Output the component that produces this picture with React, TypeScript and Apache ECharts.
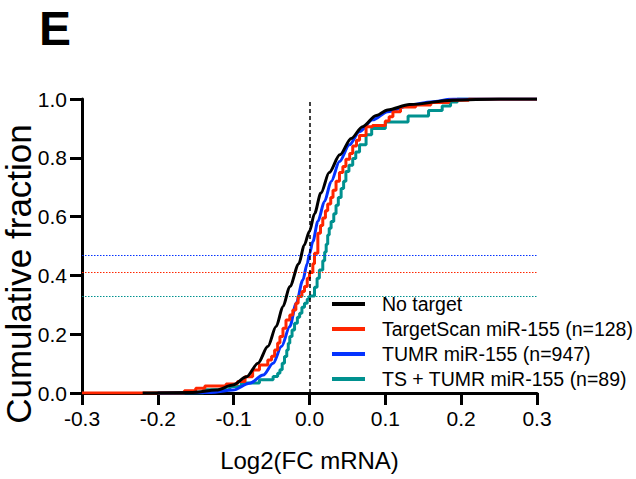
import React, { useEffect, useRef } from "react";
import * as echarts from "echarts";

const seriesNames = [
  "No target",
  "TargetScan miR-155 (n=128)",
  "TUMR miR-155 (n=947)",
  "TS + TUMR miR-155 (n=89)",
];
const seriesColors = ["#000000", "#ff2600", "#0433ff", "#00918f"];

// No target (smooth CDF)
const noTargetX = [-0.22, -0.154, -0.123, -0.101, -0.083, -0.068, -0.055, -0.044, -0.035, -0.026, -0.014, -0.007, 0, 0.0066, 0.015, 0.026, 0.04, 0.055, 0.07, 0.088, 0.103, 0.132, 0.189, 0.25, 0.3];
const noTargetY = [0, 0.002, 0.01, 0.027, 0.055, 0.101, 0.158, 0.226, 0.294, 0.362, 0.44, 0.503, 0.55, 0.61, 0.68, 0.75, 0.81, 0.866, 0.906, 0.944, 0.963, 0.981, 0.996, 1.0, 1.0];

// TargetScan miR-155 (stepped CDF)
const targetScanX = [-0.3, -0.165, -0.15, -0.138, -0.11, -0.095, -0.085, -0.075, -0.066, -0.055, -0.05, -0.046, -0.042, -0.039, -0.035, -0.031, -0.026, -0.022, -0.018, -0.015, -0.01, -0.0066, -0.003, 0, 0.0044, 0.0066, 0.011, 0.0145, 0.0175, 0.021, 0.024, 0.028, 0.031, 0.035, 0.0395, 0.044, 0.048, 0.053, 0.057, 0.062, 0.066, 0.0746, 0.083, 0.1, 0.105, 0.11, 0.12, 0.14, 0.16, 0.184, 0.21, 0.3];
const targetScanY = [0, 0.008, 0.016, 0.024, 0.031, 0.039, 0.055, 0.078, 0.095, 0.112, 0.125, 0.146, 0.17, 0.192, 0.22, 0.248, 0.265, 0.282, 0.305, 0.328, 0.345, 0.362, 0.39, 0.41, 0.44, 0.475, 0.543, 0.57, 0.595, 0.62, 0.643, 0.665, 0.69, 0.72, 0.75, 0.77, 0.795, 0.815, 0.84, 0.86, 0.876, 0.906, 0.91, 0.925, 0.94, 0.957, 0.973, 0.98, 0.988, 0.996, 1.0, 1.0];

// TUMR miR-155 (near-smooth CDF)
const tumrX = [-0.2, -0.13, -0.101, -0.079, -0.061, -0.048, -0.037, -0.026, -0.0175, -0.0088, -0.003, 0, 0.0044, 0.011, 0.0197, 0.0285, 0.0395, 0.0526, 0.0658, 0.0833, 0.103, 0.136, 0.16, 0.19, 0.3];
const tumrY = [0, 0.002, 0.01, 0.033, 0.061, 0.101, 0.158, 0.226, 0.305, 0.384, 0.44, 0.473, 0.515, 0.583, 0.651, 0.719, 0.787, 0.844, 0.889, 0.929, 0.957, 0.981, 0.99, 1.0, 1.0];

// TS + TUMR miR-155 (stepped CDF)
const tsTumrX = [-0.2, -0.14, -0.105, -0.09, -0.066, -0.048, -0.042, -0.039, -0.036, -0.033, -0.03, -0.028, -0.026, -0.023, -0.0197, -0.016, -0.013, -0.01, -0.0066, -0.003, 0, 0.0066, 0.01, 0.013, 0.0175, 0.02, 0.022, 0.024, 0.026, 0.0285, 0.032, 0.035, 0.038, 0.0417, 0.045, 0.048, 0.052, 0.057, 0.061, 0.066, 0.0746, 0.082, 0.1, 0.13, 0.157, 0.175, 0.186, 0.195, 0.3];
const tsTumrY = [0, 0.011, 0.022, 0.034, 0.045, 0.056, 0.067, 0.079, 0.101, 0.124, 0.146, 0.169, 0.192, 0.214, 0.237, 0.258, 0.271, 0.292, 0.305, 0.32, 0.33, 0.36, 0.39, 0.418, 0.45, 0.48, 0.506, 0.537, 0.56, 0.583, 0.61, 0.639, 0.665, 0.696, 0.72, 0.753, 0.775, 0.798, 0.82, 0.844, 0.878, 0.9, 0.922, 0.942, 0.961, 0.976, 0.99, 1.0, 1.0];

// fraction at x = 0 (dotted reference lines): TargetScan, TUMR, TS + TUMR
const fractionAtZero = [0.412, 0.473, 0.33];

const xAxisMin = -0.3;
const xAxisMax = 0.3;
const xAxisStep = 0.1;
const yAxisMin = 0;
const yAxisMax = 1;
const yAxisStep = 0.2;

const FONT = "'Liberation Sans', Arial, Helvetica, sans-serif";

function pairs(xs: number[], ys: number[]) {
  return xs.map((x, i) => [x, ys[i]]);
}

function fmt(v: number) {
  if (Math.abs(v) < 1e-9) return "0.0";
  return v.toFixed(1);
}

function dotted(value: number, color: string) {
  return {
    silent: true,
    symbol: "none",
    label: { show: false },
    lineStyle: { color, type: [1.5, 1.5], width: 1 },
    data: [{ yAxis: value }],
  };
}

export default function App() {
  const ref = useRef<HTMLDivElement>(null);

  useEffect(() => {
    if (!ref.current) return;
    const chart = echarts.init(ref.current, undefined, { renderer: "svg" });
    const lineCommon = {
      type: "line",
      showSymbol: false,
      symbol: "none",
      emphasis: { disabled: true },
    };
    chart.setOption({
      animation: false,
      backgroundColor: "#ffffff",
      textStyle: { fontFamily: FONT },
      grid: { left: 82, right: 99, top: 99, bottom: 86, containLabel: false, outerBoundsMode: "none" },
      legend: {
        orient: "vertical",
        left: 332,
        top: 294,
        padding: 0,
        itemGap: 5,
        itemWidth: 33,
        itemHeight: 4,
        icon: "rect",
        data: seriesNames,
        selectedMode: false,
        textStyle: {
          color: "#000",
          fontSize: 19.5,
          fontFamily: FONT,
          lineHeight: 20,
          padding: [0, 0, 0, 12],
        },
      },
      graphic: [
        {
          type: "text",
          left: 39,
          top: 4,
          style: { text: "E", font: `bold 48px ${FONT}`, fill: "#000" },
        },
        {
          type: "text",
          x: 18.5,
          y: 274,
          rotation: Math.PI / 2,
          style: {
            text: "Cumulative fraction",
            font: `35px ${FONT}`,
            fill: "#000",
            align: "center",
            verticalAlign: "middle",
          },
        },
      ],
      xAxis: {
        type: "value",
        min: xAxisMin,
        max: xAxisMax,
        interval: xAxisStep,
        name: "Log2(FC mRNA)",
        nameLocation: "middle",
        nameGap: 55,
        nameTextStyle: { fontSize: 24, color: "#000", fontFamily: FONT },
        axisLine: { show: true, onZero: false, lineStyle: { color: "#000", width: 3 } },
        axisTick: { show: true, length: 12, lineStyle: { color: "#000", width: 3 } },
        axisLabel: { formatter: fmt, fontSize: 21, color: "#000", margin: 15, fontFamily: FONT },
        splitLine: { show: false },
      },
      yAxis: {
        type: "value",
        min: yAxisMin,
        max: yAxisMax,
        interval: yAxisStep,
        axisLine: { show: true, onZero: false, lineStyle: { color: "#000", width: 3 } },
        axisTick: { show: true, length: 12, lineStyle: { color: "#000", width: 3 } },
        axisLabel: { formatter: fmt, fontSize: 21, color: "#000", margin: 15, fontFamily: FONT },
        splitLine: { show: false },
      },
      series: [
        {
          ...lineCommon,
          name: seriesNames[3],
          step: "end",
          data: pairs(tsTumrX, tsTumrY),
          lineStyle: { color: seriesColors[3], width: 3 },
          itemStyle: { color: seriesColors[3] },
          markLine: dotted(fractionAtZero[2], seriesColors[3]),
          z: 2,
        },
        {
          ...lineCommon,
          name: seriesNames[2],
          smooth: 0.3,
          smoothMonotone: "x",
          data: pairs(tumrX, tumrY),
          lineStyle: { color: seriesColors[2], width: 3 },
          itemStyle: { color: seriesColors[2] },
          markLine: dotted(fractionAtZero[1], seriesColors[2]),
          z: 3,
        },
        {
          ...lineCommon,
          name: seriesNames[1],
          step: "end",
          data: pairs(targetScanX, targetScanY),
          lineStyle: { color: seriesColors[1], width: 3 },
          itemStyle: { color: seriesColors[1] },
          markLine: dotted(fractionAtZero[0], seriesColors[1]),
          z: 4,
        },
        {
          ...lineCommon,
          name: seriesNames[0],
          smooth: 0.3,
          smoothMonotone: "x",
          data: pairs(noTargetX, noTargetY),
          lineStyle: { color: seriesColors[0], width: 3 },
          itemStyle: { color: seriesColors[0] },
          markLine: {
            silent: true,
            symbol: "none",
            label: { show: false },
            lineStyle: { color: "#000", type: [4, 3], width: 1.5 },
            data: [{ xAxis: 0 }],
          },
          z: 5,
        },
      ],
    });
    return () => chart.dispose();
  }, []);

  return (
    <div
      ref={ref}
      style={{ position: "fixed", left: 0, top: 0, width: 636, height: 479, background: "#fff" }}
    />
  );
}
